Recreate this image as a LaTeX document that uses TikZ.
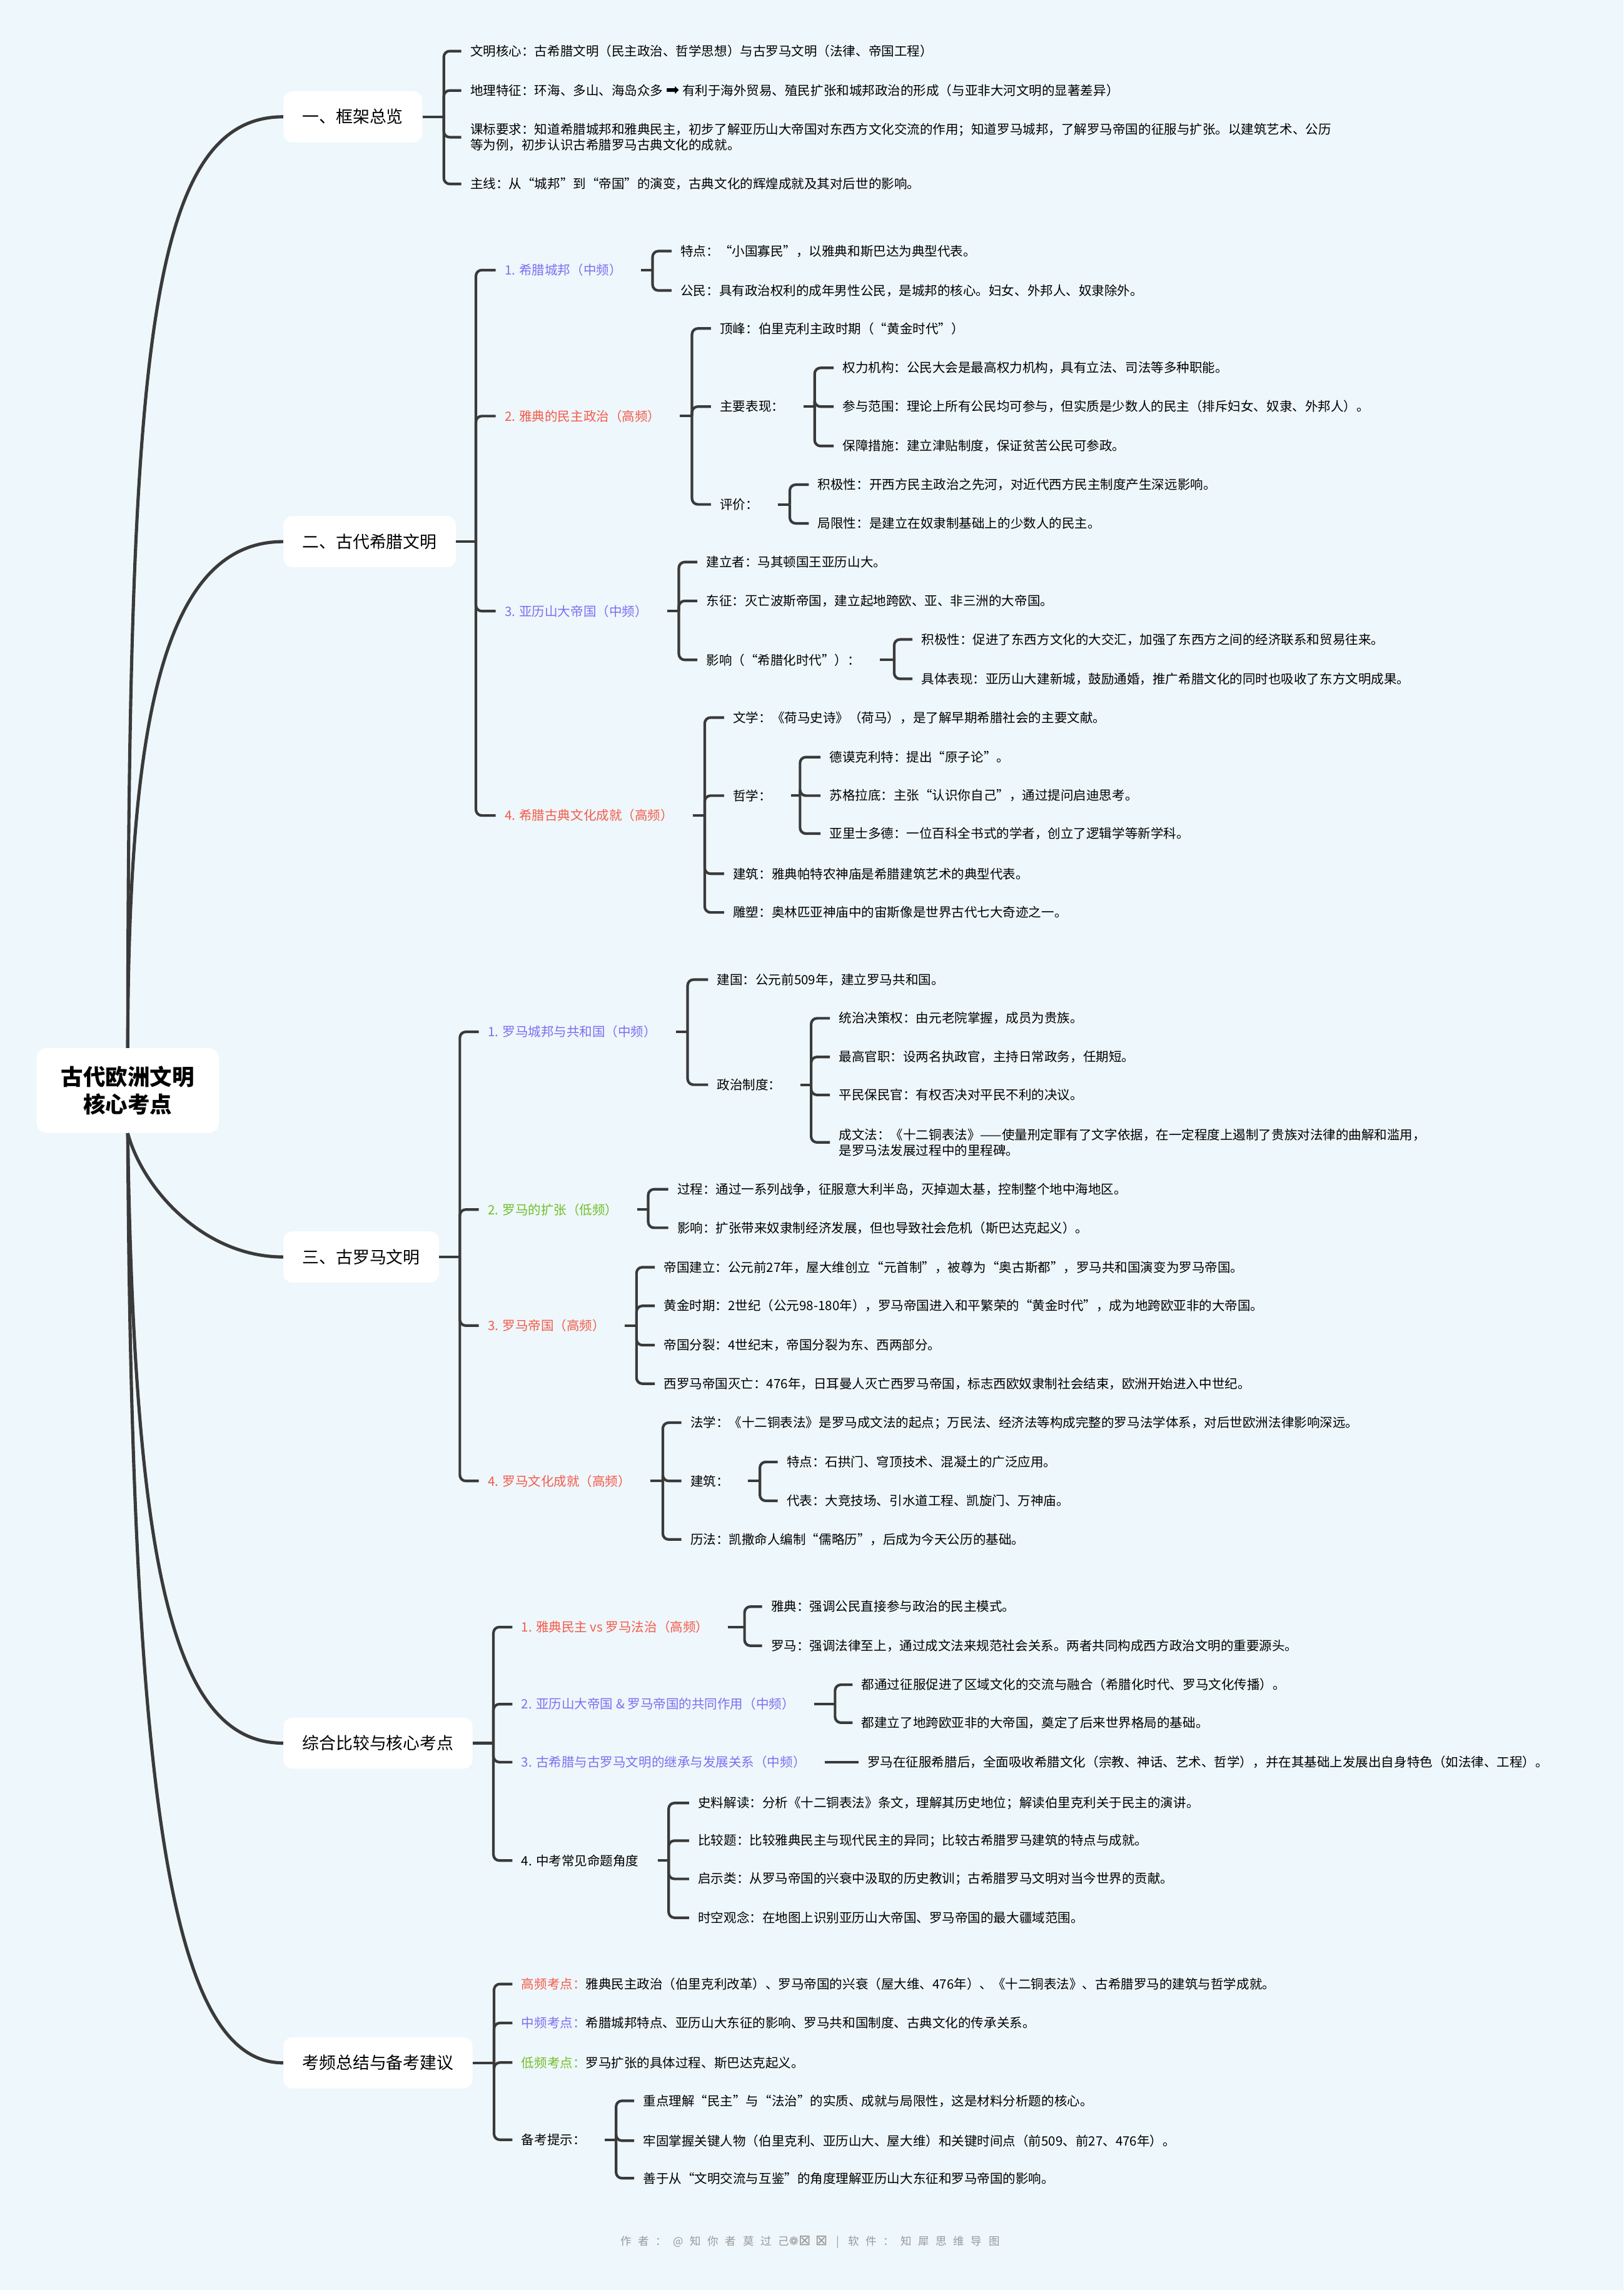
\documentclass[tikz,border=0pt]{standalone}
\usepackage{fontspec}
\setmainfont{Noto Sans CJK SC}
\newfontfamily\symfont{DejaVu Sans}
\newfontfamily\footfont[LetterSpace=60]{Noto Sans CJK SC}
\newfontfamily\footsym[LetterSpace=30]{DejaVu Sans}
\definecolor{bg}{HTML}{EEF7FB}
\definecolor{lc}{HTML}{3A3A3A}
\definecolor{pu}{HTML}{7D6FF2}
\definecolor{rd}{HTML}{F45B4B}
\definecolor{gr}{HTML}{72BF2A}
\definecolor{ft}{HTML}{9A9A9A}
\tikzset{
  line/.style={draw=lc, line width=1.8pt, rounded corners=4pt},
  rootline/.style={draw=lc, line width=2.2pt},
  rootbox/.style={fill=white, rounded corners=7pt, minimum width=125pt, minimum height=58pt, align=center, inner sep=2pt, font=\fontsize{15.2}{19}\selectfont\bfseries},
  lone/.style={fill=white, rounded corners=6pt, minimum height=35pt, inner xsep=13pt, anchor=west, font=\fontsize{11.5}{14}\selectfont},
  tx/.style={anchor=west, inner xsep=6pt, inner ysep=1pt, align=left, font=\fontsize{8.8}{10.6}\selectfont, text=black},
  tp/.style={tx, text=pu},
  tr/.style={tx, text=rd},
  tg/.style={tx, text=gr},
}
\newcommand\branch[2]{\foreach \c in {#2} \draw[line] (#1) |- (\c.west);}
\begin{document}
\begin{tikzpicture}[x=1pt,y=-1pt]
\fill[bg] (0,0) rectangle (1112,1568.6);
\useasboundingbox (0,0) rectangle (1112,1568.6);

% root and level 1
\node[rootbox] (root) at (87.5,747) {古代欧洲文明\\核心考点};
\node[lone] (A) at (194,80) {一、框架总览};
\node[lone] (B) at (194,371) {二、古代希腊文明};
\node[lone] (C) at (194,861) {三、古罗马文明};
\node[lone] (D) at (194,1194) {综合比较与核心考点};
\node[lone] (E) at (194,1413) {考频总结与备考建议};

\draw[rootline] (root.north) .. controls (88,250) and (100,80) .. (A.west);
\draw[rootline] (root.north) .. controls (88,500) and (110,371) .. (B.west);
\draw[rootline] (root.south) .. controls (98,815) and (140,861) .. (C.west);
\draw[rootline] (root.south) .. controls (92,1080) and (120,1194) .. (D.west);
\draw[rootline] (root.south) .. controls (90,1250) and (120,1413) .. (E.west);

% ---------- Section A ----------
\node[tx] (A1) at (316,35) {文明核心：古希腊文明（民主政治、哲学思想）与古罗马文明（法律、帝国工程）};
\node[tx] (A2) at (316,62) {地理特征：环海、多山、海岛众多 {\symfont\fontsize{11}{10.6}\selectfont ➡} 有利于海外贸易、殖民扩张和城邦政治的形成（与亚非大河文明的显著差异）};
\node[tx] (A3) at (316,94) {课标要求：知道希腊城邦和雅典民主，初步了解亚历山大帝国对东西方文化交流的作用；知道罗马城邦，了解罗马帝国的征服与扩张。以建筑艺术、公历\\等为例，初步认识古希腊罗马古典文化的成就。};
\node[tx] (A4) at (316,126) {主线：从“城邦”到“帝国”的演变，古典文化的辉煌成就及其对后世的影响。};
\coordinate (jA) at (304,80);
\draw[line] (A.east) -- (jA);
\branch{jA}{A1,A2,A3,A4}

% ---------- Section B ----------
\node[tp] (B1) at (339.5,185) {1. 希腊城邦（中频）};
\node[tr] (B2) at (339.5,285) {2. 雅典的民主政治（高频）};
\node[tp] (B3) at (339.5,418.6) {3. 亚历山大帝国（中频）};
\node[tr] (B4) at (339.5,558.6) {4. 希腊古典文化成就（高频）};
\coordinate (jB) at (326,371);
\draw[line] (B.east) -- (jB);
\branch{jB}{B1,B2,B3,B4}

\node[tx] (B11) at (460,172) {特点：“小国寡民”，以雅典和斯巴达为典型代表。};
\node[tx] (B12) at (460,199) {公民：具有政治权利的成年男性公民，是城邦的核心。妇女、外邦人、奴隶除外。};
\coordinate (jB1) at (447,185);
\draw[line] ([xshift=7pt]B1.east) -- (jB1);
\branch{jB1}{B11,B12}

\node[tx] (B21) at (487,225) {顶峰：伯里克利主政时期（“黄金时代”）};
\node[tx] (B22) at (487,278.5) {主要表现：};
\node[tx] (B23) at (487,345.5) {评价：};
\coordinate (jB2) at (474,285);
\draw[line] ([xshift=7pt]B2.east) -- (jB2);
\branch{jB2}{B21,B22,B23}

\node[tx] (B221) at (571,252) {权力机构：公民大会是最高权力机构，具有立法、司法等多种职能。};
\node[tx] (B222) at (571,278.5) {参与范围：理论上所有公民均可参与，但实质是少数人的民主（排斥妇女、奴隶、外邦人）。};
\node[tx] (B223) at (571,305.5) {保障措施：建立津贴制度，保证贫苦公民可参政。};
\coordinate (jB22) at (558,278.5);
\draw[line] ([xshift=7pt]B22.east) -- (jB22);
\branch{jB22}{B221,B222,B223}

\node[tx] (B231) at (554,332) {积极性：开西方民主政治之先河，对近代西方民主制度产生深远影响。};
\node[tx] (B232) at (554,358.5) {局限性：是建立在奴隶制基础上的少数人的民主。};
\coordinate (jB23) at (541,345.5);
\draw[line] ([xshift=7pt]B23.east) -- (jB23);
\branch{jB23}{B231,B232}

\node[tx] (B31) at (477.6,385) {建立者：马其顿国王亚历山大。};
\node[tx] (B32) at (477.6,411.6) {东征：灭亡波斯帝国，建立起地跨欧、亚、非三洲的大帝国。};
\node[tx] (B33) at (477.6,452) {影响（“希腊化时代”）：};
\coordinate (jB3) at (465,418.6);
\draw[line] ([xshift=7pt]B3.east) -- (jB3);
\branch{jB3}{B31,B32,B33}

\node[tx] (B331) at (625,438) {积极性：促进了东西方文化的大交汇，加强了东西方之间的经济联系和贸易往来。};
\node[tx] (B332) at (625,465) {具体表现：亚历山大建新城，鼓励通婚，推广希腊文化的同时也吸收了东方文明成果。};
\coordinate (jB33) at (612.5,452);
\draw[line] ([xshift=7pt]B33.east) -- (jB33);
\branch{jB33}{B331,B332}

\node[tx] (B41) at (496,491.5) {文学：《荷马史诗》（荷马），是了解早期希腊社会的主要文献。};
\node[tx] (B42) at (496,545) {哲学：};
\node[tx] (B43) at (496,598.5) {建筑：雅典帕特农神庙是希腊建筑艺术的典型代表。};
\node[tx] (B44) at (496,625) {雕塑：奥林匹亚神庙中的宙斯像是世界古代七大奇迹之一。};
\coordinate (jB4) at (482.7,558.6);
\draw[line] ([xshift=7pt]B4.east) -- (jB4);
\branch{jB4}{B41,B42,B43,B44}

\node[tx] (B421) at (562,518.6) {德谟克利特：提出“原子论”。};
\node[tx] (B422) at (562,545) {苏格拉底：主张“认识你自己”，通过提问启迪思考。};
\node[tx] (B423) at (562,571) {亚里士多德：一位百科全书式的学者，创立了逻辑学等新学科。};
\coordinate (jB42) at (548,545);
\draw[line] ([xshift=7pt]B42.east) -- (jB42);
\branch{jB42}{B421,B422,B423}

% ---------- Section C ----------
\node[tp] (C1) at (328,706.8) {1. 罗马城邦与共和国（中频）};
\node[tg] (C2) at (328,828.5) {2. 罗马的扩张（低频）};
\node[tr] (C3) at (328,908) {3. 罗马帝国（高频）};
\node[tr] (C4) at (328,1014.4) {4. 罗马文化成就（高频）};
\coordinate (jC) at (315,861);
\draw[line] (C.east) -- (jC);
\branch{jC}{C1,C2,C3,C4}

\node[tx] (C11) at (485,671) {建国：公元前509年，建立罗马共和国。};
\node[tx] (C12) at (485,743) {政治制度：};
\coordinate (jC1) at (471,706.8);
\draw[line] ([xshift=7pt]C1.east) -- (jC1);
\branch{jC1}{C11,C12}

\node[tx] (C121) at (568.5,697.5) {统治决策权：由元老院掌握，成员为贵族。};
\node[tx] (C122) at (568.5,724) {最高官职：设两名执政官，主持日常政务，任期短。};
\node[tx] (C123) at (568.5,750) {平民保民官：有权否决对平民不利的决议。};
\node[tx] (C124) at (568.5,782.5) {成文法：《十二铜表法》——使量刑定罪有了文字依据，在一定程度上遏制了贵族对法律的曲解和滥用，\\是罗马法发展过程中的里程碑。};
\coordinate (jC12) at (555.6,743);
\draw[line] ([xshift=7pt]C12.east) -- (jC12);
\branch{jC12}{C121,C122,C123,C124}

\node[tx] (C21) at (457.7,814.6) {过程：通过一系列战争，征服意大利半岛，灭掉迦太基，控制整个地中海地区。};
\node[tx] (C22) at (457.7,841) {影响：扩张带来奴隶制经济发展，但也导致社会危机（斯巴达克起义）。};
\coordinate (jC2) at (444,828.5);
\draw[line] ([xshift=7pt]C2.east) -- (jC2);
\branch{jC2}{C21,C22}

\node[tx] (C31) at (448.5,868) {帝国建立：公元前27年，屋大维创立“元首制”，被尊为“奥古斯都”，罗马共和国演变为罗马帝国。};
\node[tx] (C32) at (448.5,894.5) {黄金时期：2世纪（公元98-180年），罗马帝国进入和平繁荣的“黄金时代”，成为地跨欧亚非的大帝国。};
\node[tx] (C33) at (448.5,921.4) {帝国分裂：4世纪末，帝国分裂为东、西两部分。};
\node[tx] (C34) at (448.5,947.8) {西罗马帝国灭亡：476年，日耳曼人灭亡西罗马帝国，标志西欧奴隶制社会结束，欧洲开始进入中世纪。};
\coordinate (jC3) at (436,908);
\draw[line] ([xshift=7pt]C3.east) -- (jC3);
\branch{jC3}{C31,C32,C33,C34}

\node[tx] (C41) at (466.7,974.5) {法学：《十二铜表法》是罗马成文法的起点；万民法、经济法等构成完整的罗马法学体系，对后世欧洲法律影响深远。};
\node[tx] (C42) at (466.7,1014.4) {建筑：};
\node[tx] (C43) at (466.7,1054.5) {历法：凯撒命人编制“儒略历”，后成为今天公历的基础。};
\coordinate (jC4) at (454,1014.4);
\draw[line] ([xshift=7pt]C4.east) -- (jC4);
\branch{jC4}{C41,C42,C43}

\node[tx] (C421) at (532.7,1001.4) {特点：石拱门、穹顶技术、混凝土的广泛应用。};
\node[tx] (C422) at (532.7,1028) {代表：大竞技场、引水道工程、凯旋门、万神庙。};
\coordinate (jC42) at (520.5,1014.4);
\draw[line] ([xshift=7pt]C42.east) -- (jC42);
\branch{jC42}{C421,C422}

% ---------- Section D ----------
\node[tr] (D1) at (351,1114.5) {1. 雅典民主 vs 罗马法治（高频）};
\node[tp] (D2) at (351,1167.3) {2. 亚历山大帝国 \& 罗马帝国的共同作用（中频）};
\node[tp] (D3) at (351,1207) {3. 古希腊与古罗马文明的继承与发展关系（中频）};
\node[tx] (D4) at (351,1274.4) {4. 中考常见命题角度};
\coordinate (jD) at (338,1194);
\draw[line] (D.east) -- (jD);
\branch{jD}{D1,D2,D3,D4}

\node[tx] (D11) at (522,1100.5) {雅典：强调公民直接参与政治的民主模式。};
\node[tx] (D12) at (522,1127.3) {罗马：强调法律至上，通过成文法来规范社会关系。两者共同构成西方政治文明的重要源头。};
\coordinate (jD1) at (510,1114.5);
\draw[line] ([xshift=7pt]D1.east) -- (jD1);
\branch{jD1}{D11,D12}

\node[tx] (D21) at (584,1154) {都通过征服促进了区域文化的交流与融合（希腊化时代、罗马文化传播）。};
\node[tx] (D22) at (584,1180) {都建立了地跨欧亚非的大帝国，奠定了后来世界格局的基础。};
\coordinate (jD2) at (572,1167.3);
\draw[line] ([xshift=7pt]D2.east) -- (jD2);
\branch{jD2}{D21,D22}

\node[tx] (D31) at (588,1207) {罗马在征服希腊后，全面吸收希腊文化（宗教、神话、艺术、哲学），并在其基础上发展出自身特色（如法律、工程）。};
\draw[line] ([xshift=7pt]D3.east) -- (D31.west);

\node[tx] (D41) at (472,1235) {史料解读：分析《十二铜表法》条文，理解其历史地位；解读伯里克利关于民主的演讲。};
\node[tx] (D42) at (472,1260.8) {比较题：比较雅典民主与现代民主的异同；比较古希腊罗马建筑的特点与成就。};
\node[tx] (D43) at (472,1287) {启示类：从罗马帝国的兴衰中汲取的历史教训；古希腊罗马文明对当今世界的贡献。};
\node[tx] (D44) at (472,1313.6) {时空观念：在地图上识别亚历山大帝国、罗马帝国的最大疆域范围。};
\coordinate (jD4) at (458,1274.4);
\draw[line] ([xshift=7pt]D4.east) -- (jD4);
\branch{jD4}{D41,D42,D43,D44}

% ---------- Section E ----------
\node[tx] (E1) at (351,1359) {{\color{rd}高频考点：}雅典民主政治（伯里克利改革）、罗马帝国的兴衰（屋大维、476年）、《十二铜表法》、古希腊罗马的建筑与哲学成就。};
\node[tx] (E2) at (351,1385.7) {{\color{pu}中频考点：}希腊城邦特点、亚历山大东征的影响、罗马共和国制度、古典文化的传承关系。};
\node[tx] (E3) at (351,1412.8) {{\color{gr}低频考点：}罗马扩张的具体过程、斯巴达克起义。};
\node[tx] (E4) at (351,1465.7) {备考提示：};
\coordinate (jE) at (338.4,1413);
\draw[line] (E.east) -- (jE);
\branch{jE}{E1,E2,E3,E4}

\node[tx] (E41) at (434.4,1439) {重点理解“民主”与“法治”的实质、成就与局限性，这是材料分析题的核心。};
\node[tx] (E42) at (434.4,1466.3) {牢固掌握关键人物（伯里克利、亚历山大、屋大维）和关键时间点（前509、前27、476年）。};
\node[tx] (E43) at (434.4,1492) {善于从“文明交流与互鉴”的角度理解亚历山大东征和罗马帝国的影响。};
\coordinate (jE4) at (422,1465.7);
\draw[line] ([xshift=7pt]E4.east) -- (jE4);
\branch{jE4}{E41,E42,E43}

% footer
\node[text=ft, font=\fontsize{7.5}{9}\selectfont\footfont] (foot) at (555,1535.7) {作者：@知你者莫过己{\footsym\fontsize{8}{9}\selectfont ❁}{\footsym\fontsize{10}{9}\selectfont ⊠⊠} | 软件：知犀思维导图};
\end{tikzpicture}
\end{document}
